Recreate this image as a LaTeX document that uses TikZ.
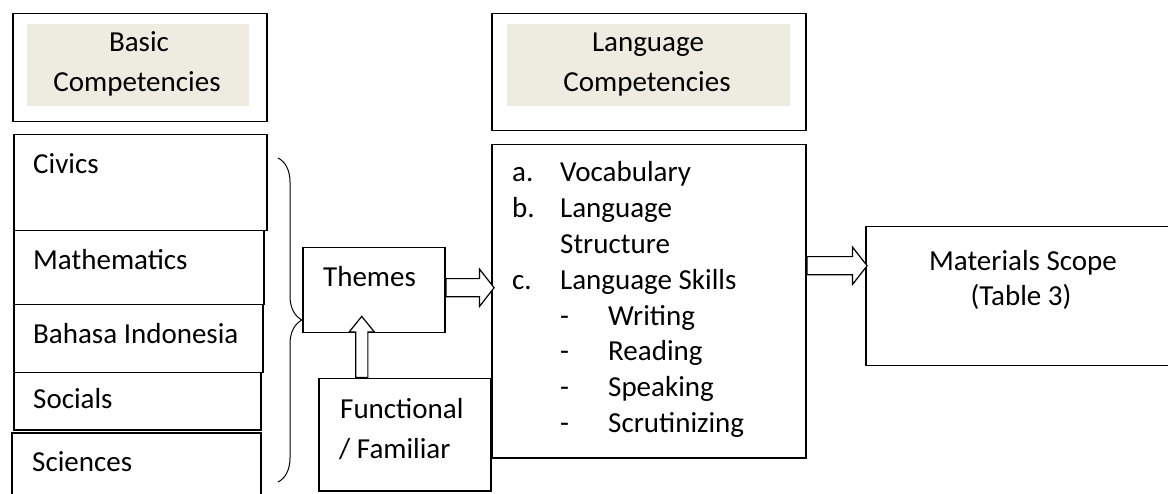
\documentclass[tikz,border=0pt]{standalone}
\usepackage{fontspec}
\setmainfont{Carlito}
\usetikzlibrary{shapes.arrows,decorations.pathreplacing}
\definecolor{paper}{RGB}{238,236,225}
\begin{document}
\begin{tikzpicture}[x=1pt,y=-1pt,font=\fontsize{29}{35.8}\selectfont]
    \tikzstyle{cadre}=[draw,line width=1.5,inner sep=0,anchor=north west]
    \tikzstyle{shade}=[fill=paper,inner sep=0,anchor=north west]
    \tikzstyle{txt}=[inner sep=0,anchor=base west]
    \tikzstyle{fat}=[single arrow,draw,fill=white,line width=1.2,inner xsep=0,inner ysep=8.5,
        single arrow head extend=9.5,single arrow tip angle=104,anchor=tail]
    \tikzstyle{slim}=[single arrow,draw,fill=white,line width=1.2,inner sep=5.5,
        single arrow head extend=6.5,single arrow tip angle=78,anchor=tail,shape border rotate=90]
    \useasboundingbox (0,0) rectangle (1168,494);
    % headers
    \node[cadre,minimum width=254,minimum height=108] (basic) at (12,13) {};
    \node[shade,minimum width=222,minimum height=82] (basicbg) at (27,24) {};
    \node[txt,anchor=base] (basic1) at (139,52) {Basic};
    \node[txt,anchor=base] (basic2) at (137,92) {Competencies};
    \node[cadre,minimum width=314,minimum height=117] (lang) at (491,13) {};
    \node[shade,minimum width=283,minimum height=82] (langbg) at (507,24) {};
    \node[txt,anchor=base] (lang1) at (648,52) {Language};
    \node[txt,anchor=base] (lang2) at (647,92) {Competencies};
    % subjects
    \node[cadre,minimum width=253,minimum height=96] (civics) at (13,134) {};
    \node[cadre,minimum width=250,minimum height=74] (maths) at (13,230) {};
    \node[cadre,minimum width=249,minimum height=68] (bahasa) at (13,304) {};
    \node[cadre,minimum width=247,minimum height=57] (socials) at (13,372) {};
    \node[cadre,minimum width=249,minimum height=70] (sciences) at (11,432) {};
    \node[txt] (civicst) at (33,174) {Civics};
    \node[txt] (mathst) at (33,270) {Mathematics};
    \node[txt] (bahasat) at (33,344) {Bahasa Indonesia};
    \node[txt] (socialst) at (33,409) {Socials};
    \node[txt] (sciencest) at (32,471) {Sciences};
    \draw[line width=1,decorate,decoration={brace,amplitude=24}] (278,158) -- (278,482);
    % themes
    \node[cadre,minimum width=142,minimum height=85] (themes) at (302,247) {};
    \node[txt] (themest) at (323,287) {Themes};
    \node[cadre,minimum width=172,minimum height=112] (func) at (318,378) {};
    \node[txt] (func1) at (340,418) {Functional};
    \node[txt] (func2) at (339,458) {/ Familiar};
    % language list
    \node[cadre,minimum width=314,minimum height=313] (list) at (491,144) {};
    \node[txt] (items) at (512,182) {\begin{tabular}[t]{@{}p{48pt}@{}p{48pt}@{}l@{}}
        a. & \multicolumn{2}{@{}l@{}}{Vocabulary}\\
        b. & \multicolumn{2}{@{}l@{}}{Language}\\
           & \multicolumn{2}{@{}l@{}}{Structure}\\
        c. & \multicolumn{2}{@{}l@{}}{Language Skills}\\
           & - & Writing\\
           & - & Reading\\
           & - & Speaking\\
           & - & Scrutinizing
        \end{tabular}};
    % scope
    \node[cadre,minimum width=330,minimum height=139] (scope) at (865,226) {};
    \node[txt,anchor=base] (scope1) at (1023,271) {Materials Scope};
    \node[txt,anchor=base] (scope2) at (1021,306) {(Table 3)};
    % arrows
    \node[fat,minimum height=48] (a1) at ([yshift=2.5]themes.east) {};
    \node[slim,minimum height=61] (a2) at ([xshift=-43]func.north) {};
    \node[fat,minimum height=60] (a3) at ([yshift=35.5]list.east) {};
\end{tikzpicture}
\end{document}
